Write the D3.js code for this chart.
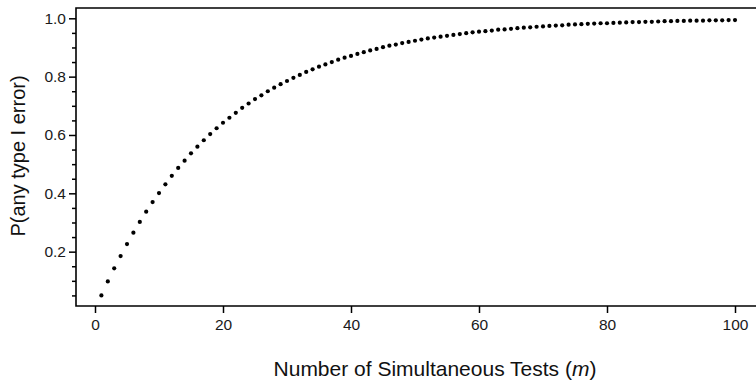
<!DOCTYPE html>
<html>
<head>
<meta charset="utf-8">
<script src="https://cdn.jsdelivr.net/npm/d3@7"></script>
<style>
  body { margin: 0; background: #fff; }
  svg { display: block; font-family: "Liberation Sans", Arial, sans-serif; }
</style>
</head>
<body>
<svg id="chart" width="756" height="380"></svg>
<script>
// number of simultaneous tests
var tests = d3.range(1, 101);
// P(any type I error)
var probs = [
    0.050, 0.098, 0.143, 0.185, 0.226, 0.265, 0.302, 0.337, 0.370, 0.401,
    0.431, 0.460, 0.487, 0.512, 0.537, 0.560, 0.582, 0.603, 0.623, 0.642,
    0.659, 0.676, 0.693, 0.708, 0.723, 0.736, 0.750, 0.762, 0.774, 0.785,
    0.796, 0.806, 0.816, 0.825, 0.834, 0.842, 0.850, 0.858, 0.865, 0.871,
    0.878, 0.884, 0.890, 0.895, 0.901, 0.906, 0.910, 0.915, 0.919, 0.923,
    0.927, 0.931, 0.934, 0.937, 0.940, 0.943, 0.946, 0.949, 0.952, 0.954,
    0.956, 0.958, 0.961, 0.962, 0.964, 0.966, 0.968, 0.969, 0.971, 0.972,
    0.974, 0.975, 0.976, 0.978, 0.979, 0.980, 0.981, 0.982, 0.983, 0.983,
    0.984, 0.985, 0.986, 0.987, 0.987, 0.988, 0.988, 0.989, 0.990, 0.990,
    0.991, 0.991, 0.992, 0.992, 0.992, 0.993, 0.993, 0.993, 0.994, 0.994
];
var xTicks = [0, 20, 40, 60, 80, 100];
var yTicks = [0.2, 0.4, 0.6, 0.8, 1.0];
var yMinorTicks = [0.05, 0.1, 0.15, 0.25, 0.3, 0.35, 0.45, 0.5, 0.55,
    0.65, 0.7, 0.75, 0.85, 0.9, 0.95];

var svg = d3.select("svg#chart");
var frame = { left: 76, right: 756, top: 8, bottom: 306 };

var xScale = d3.scaleLinear().domain([0, 100]).range([95, 735]);
var yScale = d3.scaleLinear().domain([0, 1]).range([310, 18.3]);

var plot = svg.append("g").attr("id", "plot");

// frame: top, left and bottom lines (no right side)
plot.append("path")
    .attr("d", "M" + frame.right + "," + frame.top + "H" + frame.left +
        "V" + frame.bottom + "H" + frame.right)
    .attr("fill", "none")
    .attr("stroke", "#000")
    .attr("stroke-width", 1.6);

var xAxis = d3.axisBottom(xScale).tickValues(xTicks).tickSize(7).tickPadding(6)
    .tickFormat(d3.format("d"));
var xGroup = plot.append("g")
    .attr("id", "x-axis")
    .attr("transform", "translate(0," + frame.bottom + ")")
    .call(xAxis);
xGroup.select(".domain").remove();

var yAxis = d3.axisLeft(yScale).tickValues(yTicks).tickSize(7).tickPadding(3)
    .tickFormat(d3.format(".1f"));
var yGroup = plot.append("g")
    .attr("id", "y-axis")
    .attr("transform", "translate(" + frame.left + ",0)")
    .call(yAxis);
yGroup.select(".domain").remove();

var yMinor = d3.axisLeft(yScale).tickValues(yMinorTicks).tickSize(4).tickFormat("");
var yMinorGroup = plot.append("g")
    .attr("transform", "translate(" + frame.left + ",0)")
    .call(yMinor);
yMinorGroup.select(".domain").remove();

plot.selectAll(".tick line").attr("stroke", "#000").attr("stroke-width", 1.5);
plot.selectAll(".tick text")
    .style("font-size", "15.5px")
    .style("font-family", "'Liberation Sans', Arial, sans-serif")
    .attr("fill", "#1a1a1a");

plot.append("g").attr("class", "points")
    .selectAll("circle")
    .data(tests)
    .enter()
    .append("circle")
    .attr("cx", function (d) { return xScale(d); })
    .attr("cy", function (d, i) { return yScale(probs[i]); })
    .attr("r", 2.1)
    .attr("fill", "#000");

// axis titles
var xTitle = svg.append("text")
    .attr("x", 435)
    .attr("y", 376)
    .attr("text-anchor", "middle")
    .style("font-size", "21px")
    .attr("fill", "#111");
xTitle.append("tspan").text("Number of Simultaneous Tests (");
xTitle.append("tspan").style("font-style", "italic").text("m");
xTitle.append("tspan").text(")");

svg.append("text")
    .attr("transform", "translate(25,156) rotate(-90)")
    .attr("text-anchor", "middle")
    .style("font-size", "20px")
    .attr("fill", "#111")
    .text("P(any type I error)");
</script>
</body>
</html>
